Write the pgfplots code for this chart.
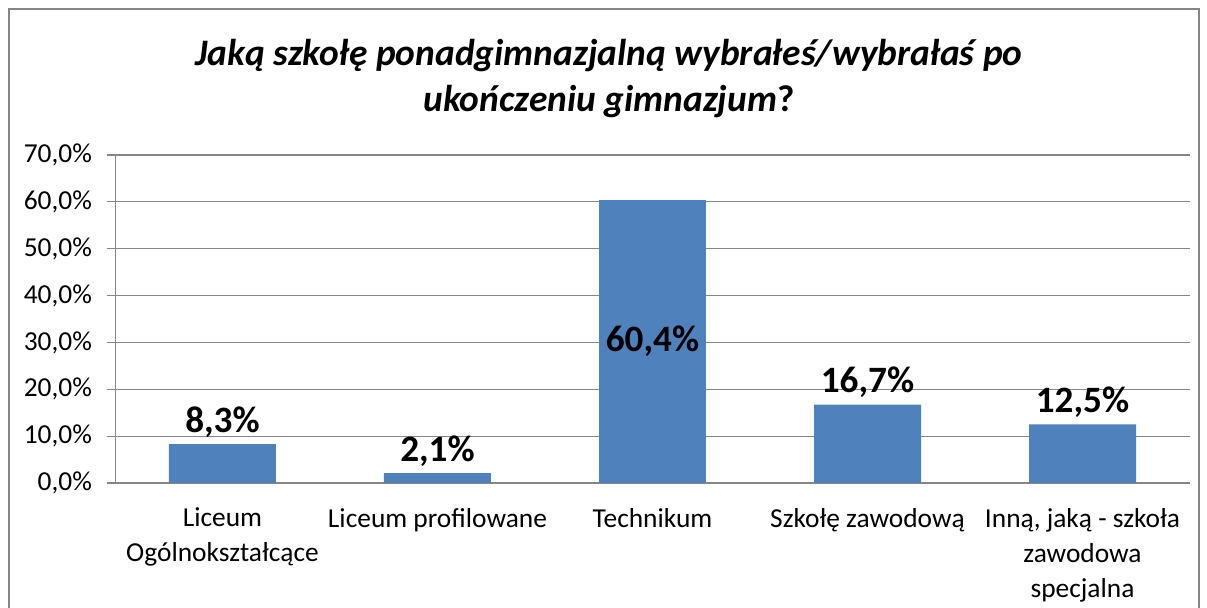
\documentclass[border=0pt]{standalone}
\usepackage{pgfplots}
\pgfplotsset{compat=1.18}
\usepackage{fontspec}
\setmainfont{Carlito}
\definecolor{barblue}{HTML}{4F81BD}
\definecolor{gridgray}{HTML}{868686}
\begin{document}
\begin{tikzpicture}
\useasboundingbox (-57.5pt,-62.5pt) rectangle (546pt,241.5pt);
\draw[gridgray,line width=0.8pt] (-53pt,-64pt) -- (-53pt,237pt) -- (542pt,237pt) -- (542pt,-64pt);
\node[font=\fontsize{18.7}{23}\selectfont\bfseries\itshape, align=center] at (247pt,202pt)
  {Jaką szkołę ponadgimnazjalną wybrałeś/wybrałaś po\\ukończeniu gimnazjum\textup{?}};
\begin{axis}[
  at={(0pt,0pt)}, anchor=south west,
  width=537.5pt, height=164pt, scale only axis,
  xmin=-0.5, xmax=4.5, ymin=0, ymax=70,
  axis lines=left, axis line style={gridgray,-},
  ybar, bar width=53.5pt, bar shift=0pt,
  ytick={0,10,...,70},
  yticklabels={{0,0\%},{10,0\%},{20,0\%},{30,0\%},{40,0\%},{50,0\%},{60,0\%},{70,0\%}},
  ymajorgrids, grid style={gridgray, line width=0.6pt},
  ytick style={gridgray, line width=0.6pt},
  major tick length=4pt, tick align=outside,
  xtick={0,1,2,3,4},
  xticklabels={Liceum\\Ogólnokształcące, Liceum profilowane, Technikum, Szkołę zawodową, {Inną, jaką - szkoła\\zawodowa\\specjalna}},
  x tick style={draw=none},
  extra x ticks={-0.5,0.5,1.5,2.5,3.5,4.5}, extra x tick labels={},
  extra x tick style={grid=none, tick style={draw=gridgray, line width=0.6pt}, major tick length=4pt},
  xticklabel style={align=center, font=\fontsize{13.7}{17.5}\selectfont, text depth=0pt, yshift=-5pt},
  yticklabel style={font=\fontsize{13.7}{16}\selectfont, xshift=-4pt},
  nodes near coords, point meta=explicit symbolic,
  every node near coord/.append style={font=\fontsize{18.6}{20}\selectfont\bfseries, black},
]
\addplot[fill=barblue, draw=none] coordinates {(0,8.3)[8,3\%] (1,2.1)[2,1\%] (3,16.7)[16,7\%] (4,12.5)[12,5\%]};
\addplot[fill=barblue, draw=none, every node near coord/.append style={anchor=center, yshift=-70.8pt}] coordinates {(2,60.4)[60,4\%]};
\end{axis}
\end{tikzpicture}
\end{document}
